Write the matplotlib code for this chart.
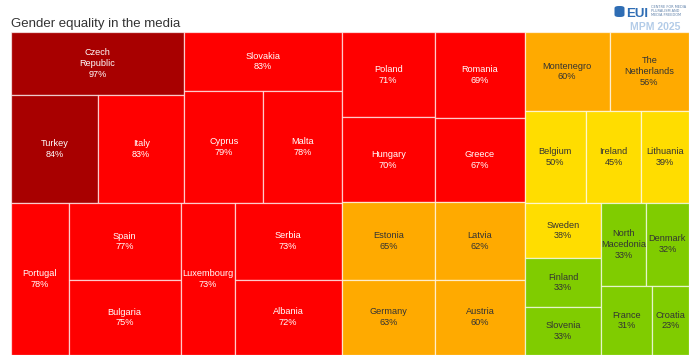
import matplotlib
matplotlib.use("Agg")
import matplotlib.pyplot as plt
from matplotlib.patches import Rectangle, FancyBboxPatch

# ----------------------------------------------------------------------------
# data (sorted by score, ties in source order)
# ----------------------------------------------------------------------------
countries = ["Czech\nRepublic", "Turkey", "Italy", "Slovakia", "Cyprus", "Malta",
             "Portugal", "Spain", "Bulgaria", "Luxembourg", "Serbia", "Albania",
             "Poland", "Hungary", "Romania", "Greece", "Estonia", "Germany",
             "Latvia", "Austria", "Montenegro", "The\nNetherlands", "Belgium",
             "Ireland", "Lithuania", "Sweden", "Finland", "Slovenia",
             "North\nMacedonia", "Denmark", "France", "Croatia"]
scores = [97, 84, 83, 83, 79, 78,
          78, 77, 75, 73, 73, 72,
          71, 70, 69, 67, 65, 63,
          62, 60, 60, 56, 50,
          45, 39, 38, 33, 33,
          33, 32, 31, 23]

# risk bands: lower bound, fill, text colour
bands = [(84, "#A80000", "white"),
         (67, "#FF0000", "white"),
         (51, "#FFAA00", "#333333"),
         (34, "#FFDD00", "#333333"),
         (0, "#80CC00", "#333333")]

title = "Gender equality in the media"

# layout space (width : height)
W, H = 2.0, 1.0


def band_of(v):
    for lo, fill, txt in bands:
        if v >= lo:
            return fill, txt


# ----------------------------------------------------------------------------
# binary treemap layout
# ----------------------------------------------------------------------------
sums = [0]
for v in scores:
    sums.append(sums[-1] + v)
rects = [None] * len(scores)


def partition(i, j, value, x0, y0, x1, y1):
    if i >= j - 1:
        rects[i] = (x0, y0, x1, y1)
        return
    target = value / 2 + sums[i]
    k, hi = i + 1, j - 1
    while k < hi:
        mid = (k + hi) // 2
        if sums[mid] < target:
            k = mid + 1
        else:
            hi = mid
    if (target - sums[k - 1]) < (sums[k] - target) and i + 1 < k:
        k -= 1
    left = sums[k] - sums[i]
    right = value - left
    if (x1 - x0) > (y1 - y0):
        xk = (x0 * right + x1 * left) / value
        partition(i, k, left, x0, y0, xk, y1)
        partition(k, j, right, xk, y0, x1, y1)
    else:
        yk = (y0 * right + y1 * left) / value
        partition(i, k, left, x0, y0, x1, yk)
        partition(k, j, right, x0, yk, x1, y1)


partition(0, len(scores), sums[-1], 0, 0, W, H)

# ----------------------------------------------------------------------------
# plot
# ----------------------------------------------------------------------------
fig = plt.figure(figsize=(7.0, 3.58), dpi=100)
ax = fig.add_axes([11 / 700, 1 - 355 / 358, 678 / 700, 323 / 358])
ax.set_xlim(0, W)
ax.set_ylim(H, 0)
ax.axis("off")

font = ["Liberation Sans", "DejaVu Sans"]

for name, v, (x0, y0, x1, y1) in zip(countries, scores, rects):
    fill, txt = band_of(v)
    ax.add_patch(Rectangle((x0, y0), x1 - x0, y1 - y0, facecolor=fill,
                           edgecolor=(1, 1, 1, 0.65), linewidth=0.9))
    ax.text((x0 + x1) / 2, (y0 + y1) / 2, f"{name}\n{v}%", ha="center",
            va="center", fontsize=6.6, color=txt, family=font,
            linespacing=1.25)

fig.text(11 / 700, 1 - 27 / 358, title, fontsize=9.5, color="#333333",
         family=font)

# logo
fig.patches.append(FancyBboxPatch((614.5 / 700, 1 - 17 / 358), 10 / 700,
                                  11 / 358,
                                  boxstyle="round,pad=0,rounding_size=0.006",
                                  transform=fig.transFigure,
                                  facecolor="#2E6DB4", edgecolor="none"))
fig.text(626 / 700, 1 - 17 / 358, "EUI", fontsize=9.5, fontweight="bold",
         color="#2E6DB4", family=font)
fig.text(651 / 700, 1 - 16.5 / 358,
         "CENTRE FOR MEDIA\nPLURALISM AND\nMEDIA FREEDOM", fontsize=2.5,
         color="#5C7FA8", linespacing=1.1, family=["DejaVu Sans"])
fig.text(630 / 700, 1 - 29.5 / 358, "MPM 2025", fontsize=7.5,
         fontweight="bold", color="#B3CCE8", family=font)

fig.savefig("out.png", dpi=100)
